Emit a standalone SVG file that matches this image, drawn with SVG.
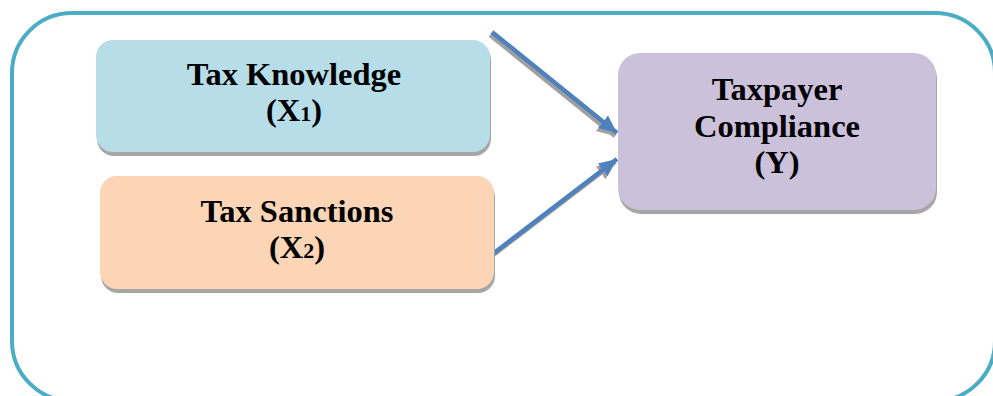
<svg xmlns="http://www.w3.org/2000/svg" width="993" height="396" viewBox="0 0 993 396">
<style>
.frame{fill:none;stroke:#4bacc6;stroke-width:4}
.shadow{fill:#a6a6a6}
.t{font-family:"Liberation Serif","Times New Roman",serif;font-weight:bold;font-size:32.5px;fill:#000;text-anchor:middle}
.sub{font-size:22px}
.conn{fill:none;stroke:#4f81bd;stroke-width:4.5}
.connsh{fill:none;stroke:#a0a0a0;stroke-width:4.5}
</style>
<defs>
<marker id="ah" markerUnits="userSpaceOnUse" markerWidth="20" markerHeight="20" viewBox="0 0 20 20" refX="18" refY="10" orient="auto">
<path d="M0,2 L18,10 L0,18 Z" fill="#4f81bd"/>
</marker>
<marker id="ahs" markerUnits="userSpaceOnUse" markerWidth="20" markerHeight="20" viewBox="0 0 20 20" refX="18" refY="10" orient="auto">
<path d="M0,2 L18,10 L0,18 Z" fill="#a0a0a0"/>
</marker>
</defs>
<rect class="frame" x="12" y="13" width="983" height="388" rx="60" ry="60"/>
<g id="connectors">
<line class="connsh" x1="490" y1="35" x2="615" y2="136" marker-end="url(#ahs)"/>
<line class="connsh" x1="492" y1="256" x2="615" y2="162" marker-end="url(#ahs)"/>
<line class="conn" x1="492" y1="32" x2="617" y2="133" marker-end="url(#ah)"/>
<line class="conn" x1="494" y1="253" x2="617" y2="159" marker-end="url(#ah)"/>
</g>
<g id="x1">
<rect class="shadow" x="97" y="43" width="394" height="113" rx="17"/>
<rect x="96" y="40" width="394" height="112" rx="17" fill="#b7dde8"/>
<text class="t" x="294" y="85">Tax Knowledge</text>
<text class="t" x="294" y="121">(X<tspan class="sub">1</tspan>)</text>
</g>
<g id="x2">
<rect class="shadow" x="101" y="180" width="394" height="113" rx="17"/>
<rect x="100" y="176" width="394" height="113" rx="17" fill="#fbd5b5"/>
<text class="t" x="297" y="222">Tax Sanctions</text>
<text class="t" x="297" y="258">(X<tspan class="sub">2</tspan>)</text>
</g>
<g id="y">
<rect class="shadow" x="619" y="57" width="318" height="157" rx="22"/>
<rect x="618" y="53" width="318" height="157" rx="22" fill="#ccc1da"/>
<text class="t" x="777" y="100">Taxpayer</text>
<text class="t" x="777" y="137">Compliance</text>
<text class="t" x="777" y="173">(Y)</text>
</g>
</svg>
